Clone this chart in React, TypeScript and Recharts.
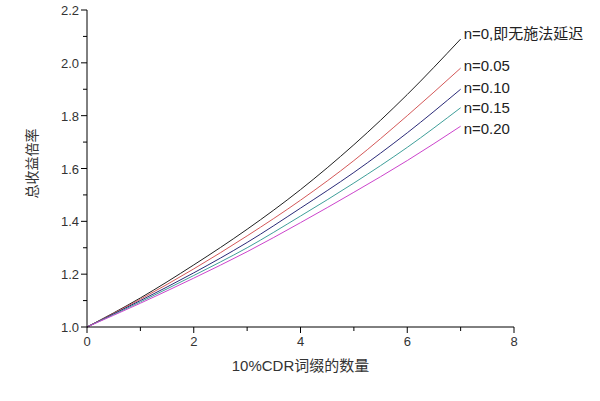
import React from "react";
import { LineChart, Line, XAxis, YAxis, Label } from "recharts";

// x values: number of 10% CDR affixes
const affixCounts = [0, 1, 2, 3, 4, 5, 6, 7];

// total gain multiplier per delay n
const gainN0 = [1.0, 1.11, 1.235, 1.37, 1.52, 1.69, 1.88, 2.09];
const gainN005 = [1.0, 1.105, 1.22, 1.345, 1.48, 1.63, 1.8, 1.98];
const gainN010 = [1.0, 1.1, 1.205, 1.32, 1.45, 1.585, 1.735, 1.9];
const gainN015 = [1.0, 1.095, 1.195, 1.3, 1.42, 1.545, 1.68, 1.83];
const gainN020 = [1.0, 1.09, 1.185, 1.285, 1.395, 1.51, 1.63, 1.76];

const seriesNames = ["n=0,即无施法延迟", "n=0.05", "n=0.10", "n=0.15", "n=0.20"];

const xTicks = [0, 1, 2, 3, 4, 5, 6, 7, 8];
const yTicks = [1.0, 1.1, 1.2, 1.3, 1.4, 1.5, 1.6, 1.7, 1.8, 1.9, 2.0, 2.1, 2.2];

const data = affixCounts.map((x, i) => ({
  x,
  s0: gainN0[i],
  s1: gainN005[i],
  s2: gainN010[i],
  s3: gainN015[i],
  s4: gainN020[i],
}));

const series = [
  { key: "s0", color: "#202020", dy: -5 },
  { key: "s1", color: "#d45858", dy: -2 },
  { key: "s2", color: "#2a2a78", dy: -1 },
  { key: "s3", color: "#3f9f9a", dy: 0 },
  { key: "s4", color: "#cc44cc", dy: 3 },
];

const FONT = "'Liberation Sans', Arial, 'Noto Sans CJK SC', sans-serif";

const XTick = (props: any) => {
  const { x, y, payload } = props;
  const major = payload.value % 2 === 0;
  return (
    <g>
      <line x1={x} y1={y} x2={x} y2={y + (major ? 6 : 4)} stroke="#000" strokeWidth={1} />
      {major && (
        <text x={x} y={y + 19} textAnchor="middle" fontSize={13} fill="#333" fontFamily={FONT}>
          {payload.value}
        </text>
      )}
    </g>
  );
};

const YTick = (props: any) => {
  const { x, y, payload } = props;
  const major = Math.round(payload.value * 10) % 2 === 0;
  return (
    <g>
      <line x1={x} y1={y} x2={x - (major ? 6 : 4)} y2={y} stroke="#000" strokeWidth={1} />
      {major && (
        <text x={x - 8} y={y + 5} textAnchor="end" fontSize={13} fill="#333" fontFamily={FONT}>
          {payload.value.toFixed(1)}
        </text>
      )}
    </g>
  );
};

const endLabel = (name: string, dy: number) => (props: any) => {
  const { x, y, index } = props;
  if (index !== affixCounts.length - 1) return null;
  return (
    <text x={x + 3} y={y + dy + 5} fontSize={15} fill="#222" fontFamily={FONT}>
      {name}
    </text>
  );
};

export default function App() {
  return (
    <div style={{ position: "absolute", left: 0, top: 0, width: 600, height: 401, background: "#fff" }}>
      <LineChart
        width={600}
        height={401}
        data={data}
        margin={{ top: 10, right: 86, bottom: 44, left: 27 }}
      >
        <XAxis
          dataKey="x"
          type="number"
          domain={[0, 8]}
          ticks={xTicks}
          interval={0}
          tickLine={false}
          tickSize={0}
          tickMargin={0}
          tick={<XTick />}
          axisLine={{ stroke: "#000" }}
          height={30}
        >
          <Label
            value="10%CDR词缀的数量"
            position="insideBottom"
            offset={-14}
            style={{ fontSize: 15, fill: "#333", fontFamily: FONT }}
          />
        </XAxis>
        <YAxis
          type="number"
          domain={[1.0, 2.2]}
          ticks={yTicks}
          interval={0}
          tickLine={false}
          tickSize={0}
          tickMargin={0}
          tick={<YTick />}
          axisLine={{ stroke: "#000" }}
          width={60}
        >
          <Label
            value="总收益倍率"
            angle={-90}
            position="insideLeft"
            offset={5}
            dy={-5}
            style={{ fontSize: 14, fill: "#333", fontFamily: FONT, textAnchor: "middle" }}
          />
        </YAxis>
        {series.map((s, i) => (
          <Line
            key={s.key}
            dataKey={s.key}
            type="monotone"
            stroke={s.color}
            strokeWidth={1}
            dot={false}
            isAnimationActive={false}
            label={endLabel(seriesNames[i], s.dy)}
          />
        ))}
      </LineChart>
    </div>
  );
}
